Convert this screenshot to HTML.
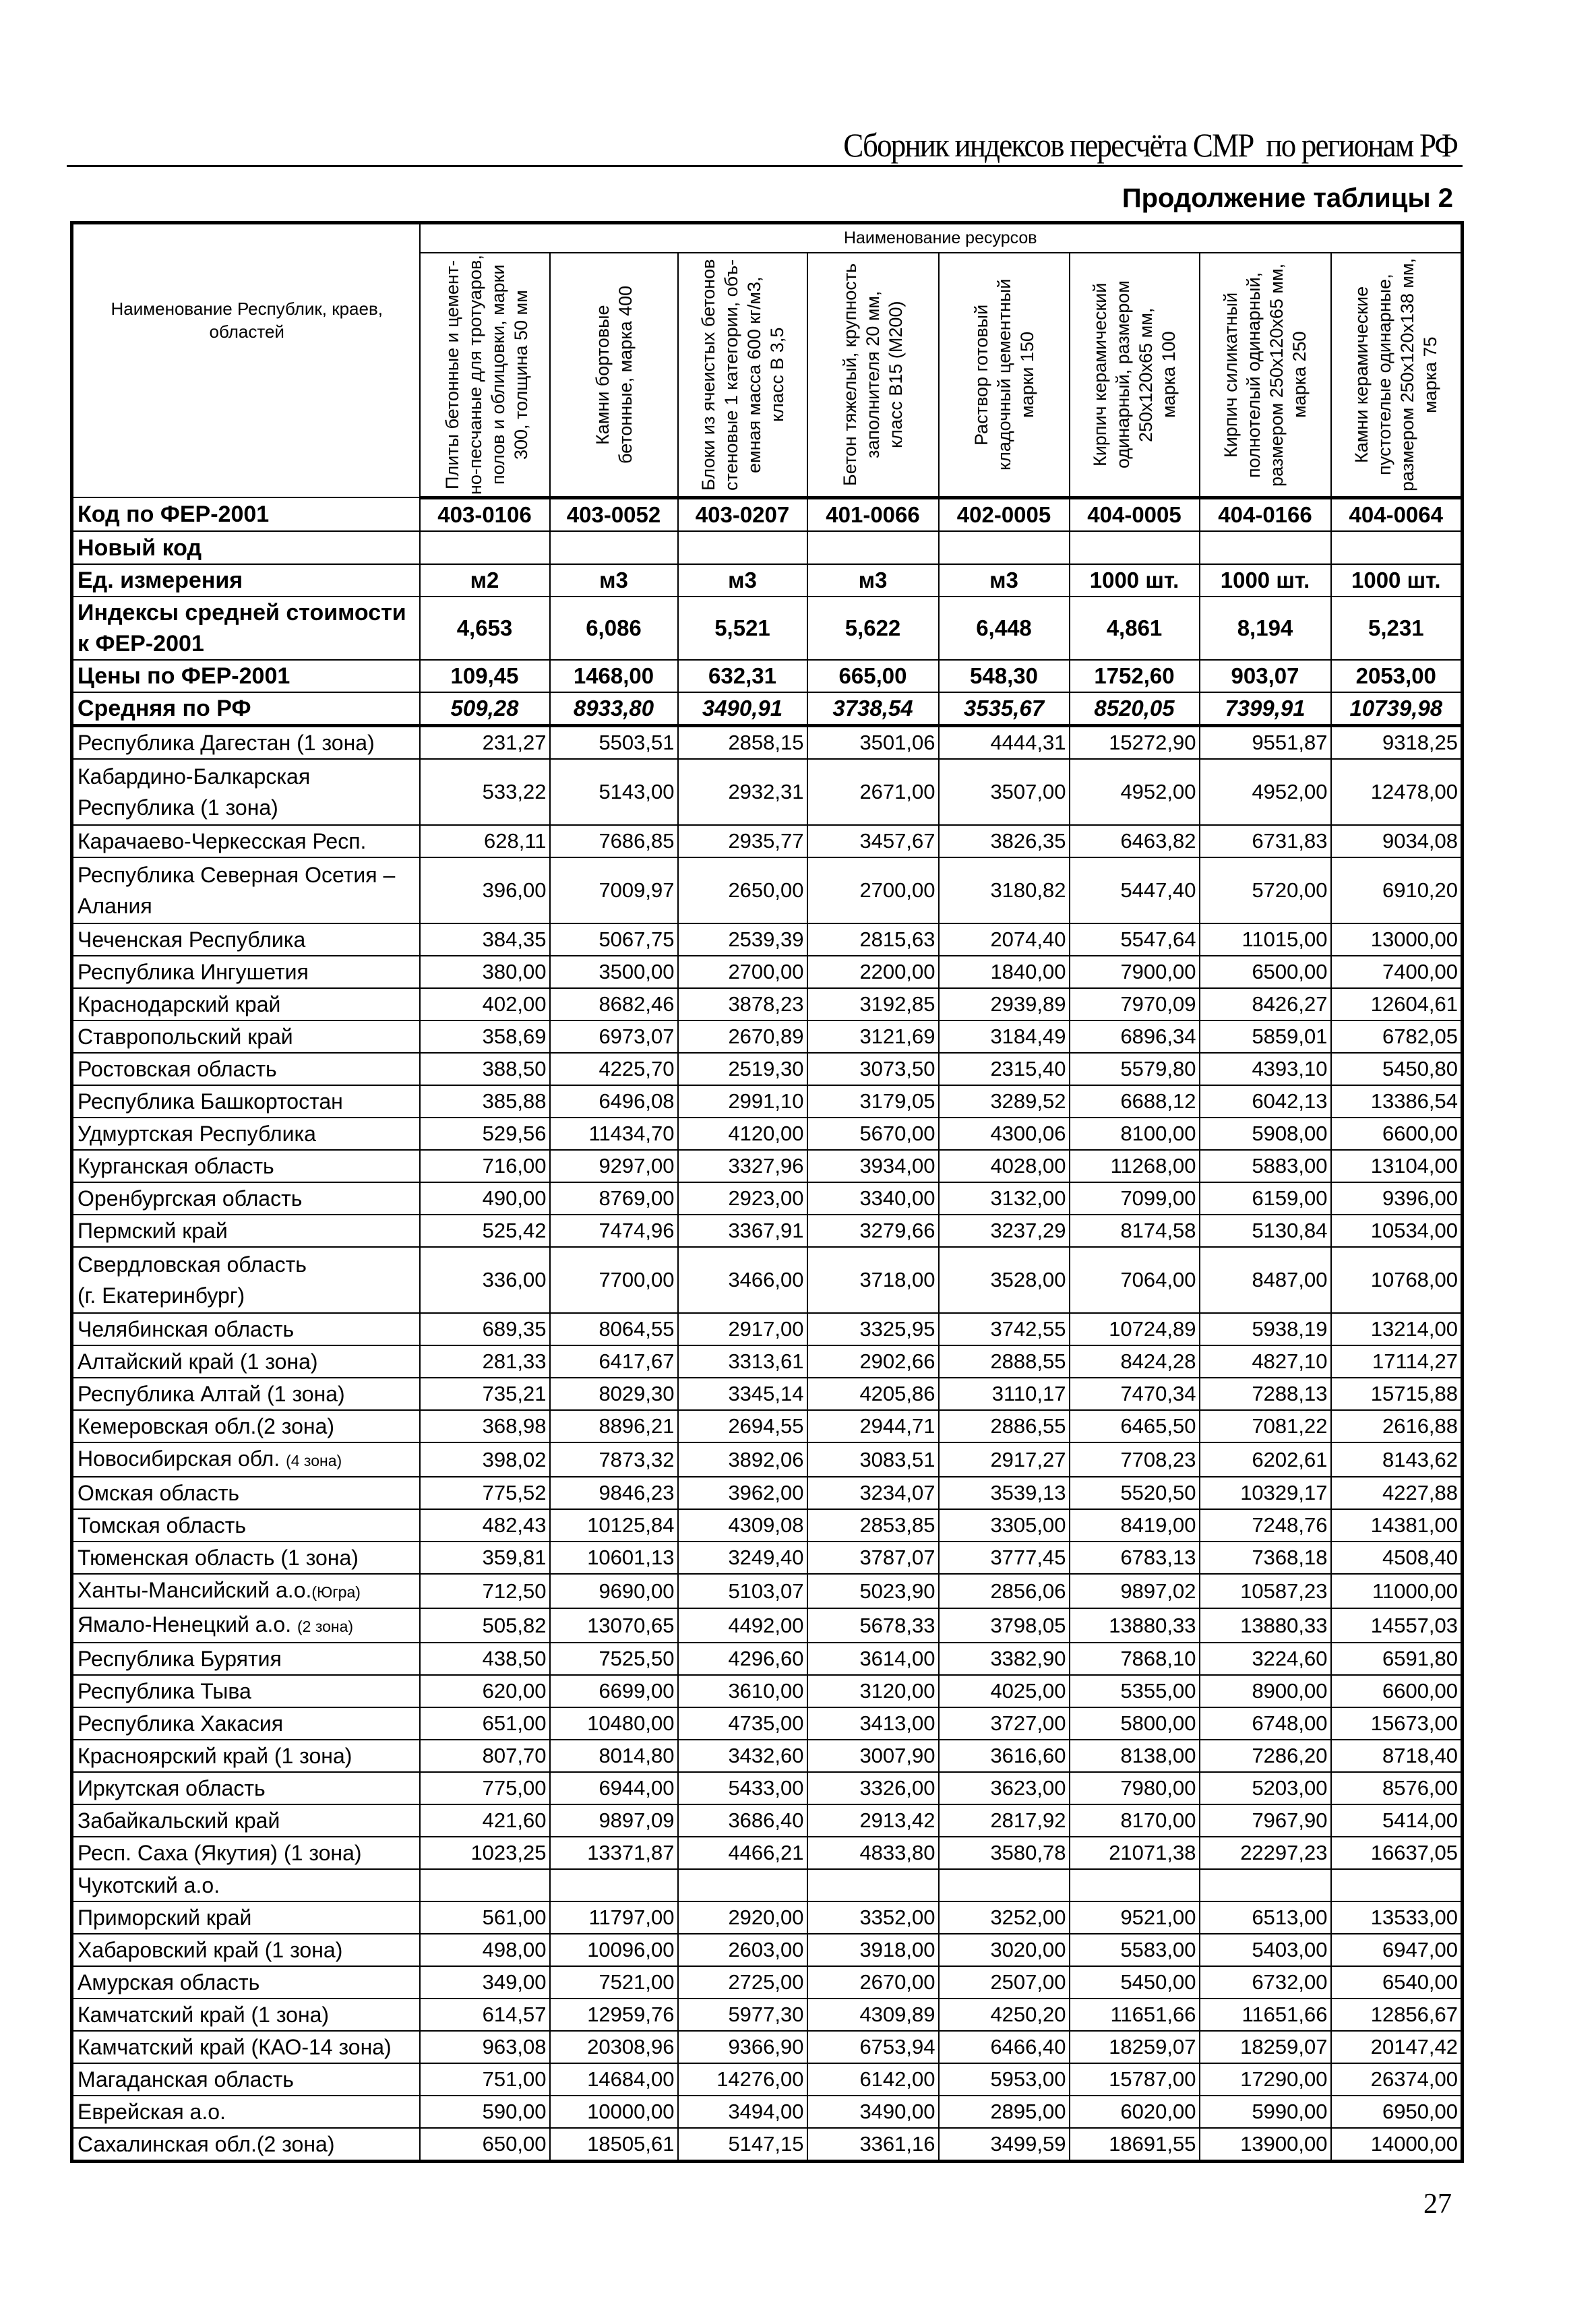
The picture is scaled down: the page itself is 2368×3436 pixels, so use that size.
<!DOCTYPE html>
<html><head><meta charset="utf-8">
<style>
html,body{margin:0;padding:0;background:#fff;}
body{width:2368px;height:3436px;position:relative;overflow:hidden;font-family:"Liberation Sans",Arial,sans-serif;color:#000;}
.title{position:absolute;right:206px;top:186px;font-family:"Liberation Serif",serif;font-size:50px;letter-spacing:-2px;white-space:nowrap;transform:scaleX(0.9);transform-origin:right;}
.rule{position:absolute;left:99px;top:245px;width:2071px;height:3px;background:#000;}
.sub{position:absolute;right:212px;top:272px;font-size:40px;font-weight:bold;white-space:nowrap;}
.pnum{position:absolute;right:214px;top:3246px;font-family:"Liberation Serif",serif;font-size:42px;}
table{position:absolute;left:104px;top:328px;border-collapse:collapse;table-layout:fixed;width:2063px;border:5px solid #000;}
td{border:2px solid #000;padding:0 4px;font-size:31px;white-space:nowrap;overflow:hidden;text-align:right;line-height:40px;}
td:first-child{text-align:left;padding-left:6px;white-space:normal;line-height:46px;font-size:32px;}
tr.d td{height:46px;}
tr.d2 td{height:96px;}
.hd td{font-weight:bold;text-align:center;font-size:33px;}
.hd td:first-child{text-align:left;font-size:34px;}
.it td{font-style:italic;}
.thick td{border-bottom:5px solid #000;}
.vh{height:360px;padding:0;text-align:center;vertical-align:middle;}
.vh div{writing-mode:vertical-rl;transform:rotate(180deg);font-size:27px;line-height:34px;text-align:center;height:360px;margin:auto;white-space:nowrap;}
.sm{font-size:23px;}
</style></head><body>
<div class="title">Сборник индексов пересчёта СМР&nbsp; по регионам РФ</div>
<div class="rule"></div>
<div class="sub">Продолжение таблицы 2</div>
<table>
<colgroup><col style="width:516px"><col style="width:193px"><col style="width:190px"><col style="width:192px"><col style="width:195px"><col style="width:194px"><col style="width:193px"><col style="width:195px"><col style="width:195px"></colgroup>
<tr style="height:44px"><td rowspan="2" style="text-align:center;font-size:26px;line-height:34px;white-space:normal;padding-bottom:120px">Наименование Республик, краев,<br>областей</td><td colspan="8" style="text-align:center;font-size:25px">Наименование ресурсов</td></tr>
<tr class="thick"><td class="vh"><div>Плиты бетонные и цемент-<br>но-песчаные для тротуаров,<br>полов и облицовки, марки<br>300, толщина 50 мм</div></td>
<td class="vh"><div>Камни бортовые<br>бетонные, марка 400</div></td>
<td class="vh"><div>Блоки из ячеистых бетонов<br>стеновые 1 категории, объ-<br>емная масса 600 кг/м3,<br>класс В 3,5</div></td>
<td class="vh"><div>Бетон тяжелый, крупность<br>заполнителя 20 мм,<br>класс B15 (М200)</div></td>
<td class="vh"><div>Раствор готовый<br>кладочный цементный<br>марки 150</div></td>
<td class="vh"><div>Кирпич керамический<br>одинарный, размером<br>250х120х65 мм,<br>марка 100</div></td>
<td class="vh"><div>Кирпич силикатный<br>полнотелый одинарный,<br>размером 250х120х65 мм,<br>марка 250</div></td>
<td class="vh"><div>Камни керамические<br>пустотелые одинарные,<br>размером 250х120х138 мм,<br>марка 75</div></td></tr>
<tr class="hd" style="height:50px"><td>Код по ФЕР-2001</td><td>403-0106</td><td>403-0052</td><td>403-0207</td><td>401-0066</td><td>402-0005</td><td>404-0005</td><td>404-0166</td><td>404-0064</td></tr>
<tr class="hd" style="height:49px"><td>Новый код</td><td></td><td></td><td></td><td></td><td></td><td></td><td></td><td></td></tr>
<tr class="hd" style="height:48px"><td>Ед. измерения</td><td>м2</td><td>м3</td><td>м3</td><td>м3</td><td>м3</td><td>1000 шт.</td><td>1000 шт.</td><td>1000 шт.</td></tr>
<tr class="hd" style="height:94px"><td>Индексы средней стоимости<br>к ФЕР-2001</td><td>4,653</td><td>6,086</td><td>5,521</td><td>5,622</td><td>6,448</td><td>4,861</td><td>8,194</td><td>5,231</td></tr>
<tr class="hd" style="height:48px"><td>Цены по ФЕР-2001</td><td>109,45</td><td>1468,00</td><td>632,31</td><td>665,00</td><td>548,30</td><td>1752,60</td><td>903,07</td><td>2053,00</td></tr>
<tr class="hd it thick" style="height:49px"><td style="font-style:normal">Средняя по РФ</td><td>509,28</td><td>8933,80</td><td>3490,91</td><td>3738,54</td><td>3535,67</td><td>8520,05</td><td>7399,91</td><td>10739,98</td></tr>
<tr class="d"><td>Республика Дагестан (1 зона)</td><td>231,27</td><td>5503,51</td><td>2858,15</td><td>3501,06</td><td>4444,31</td><td>15272,90</td><td>9551,87</td><td>9318,25</td></tr>
<tr class="d2"><td>Кабардино-Балкарская<br>Республика (1 зона)</td><td>533,22</td><td>5143,00</td><td>2932,31</td><td>2671,00</td><td>3507,00</td><td>4952,00</td><td>4952,00</td><td>12478,00</td></tr>
<tr class="d"><td>Карачаево-Черкесская Респ.</td><td>628,11</td><td>7686,85</td><td>2935,77</td><td>3457,67</td><td>3826,35</td><td>6463,82</td><td>6731,83</td><td>9034,08</td></tr>
<tr class="d2"><td>Республика Северная Осетия –<br>Алания</td><td>396,00</td><td>7009,97</td><td>2650,00</td><td>2700,00</td><td>3180,82</td><td>5447,40</td><td>5720,00</td><td>6910,20</td></tr>
<tr class="d"><td>Чеченская Республика</td><td>384,35</td><td>5067,75</td><td>2539,39</td><td>2815,63</td><td>2074,40</td><td>5547,64</td><td>11015,00</td><td>13000,00</td></tr>
<tr class="d"><td>Республика Ингушетия</td><td>380,00</td><td>3500,00</td><td>2700,00</td><td>2200,00</td><td>1840,00</td><td>7900,00</td><td>6500,00</td><td>7400,00</td></tr>
<tr class="d"><td>Краснодарский край</td><td>402,00</td><td>8682,46</td><td>3878,23</td><td>3192,85</td><td>2939,89</td><td>7970,09</td><td>8426,27</td><td>12604,61</td></tr>
<tr class="d"><td>Ставропольский край</td><td>358,69</td><td>6973,07</td><td>2670,89</td><td>3121,69</td><td>3184,49</td><td>6896,34</td><td>5859,01</td><td>6782,05</td></tr>
<tr class="d"><td>Ростовская область</td><td>388,50</td><td>4225,70</td><td>2519,30</td><td>3073,50</td><td>2315,40</td><td>5579,80</td><td>4393,10</td><td>5450,80</td></tr>
<tr class="d"><td>Республика Башкортостан</td><td>385,88</td><td>6496,08</td><td>2991,10</td><td>3179,05</td><td>3289,52</td><td>6688,12</td><td>6042,13</td><td>13386,54</td></tr>
<tr class="d"><td>Удмуртская Республика</td><td>529,56</td><td>11434,70</td><td>4120,00</td><td>5670,00</td><td>4300,06</td><td>8100,00</td><td>5908,00</td><td>6600,00</td></tr>
<tr class="d"><td>Курганская область</td><td>716,00</td><td>9297,00</td><td>3327,96</td><td>3934,00</td><td>4028,00</td><td>11268,00</td><td>5883,00</td><td>13104,00</td></tr>
<tr class="d"><td>Оренбургская область</td><td>490,00</td><td>8769,00</td><td>2923,00</td><td>3340,00</td><td>3132,00</td><td>7099,00</td><td>6159,00</td><td>9396,00</td></tr>
<tr class="d"><td>Пермский край</td><td>525,42</td><td>7474,96</td><td>3367,91</td><td>3279,66</td><td>3237,29</td><td>8174,58</td><td>5130,84</td><td>10534,00</td></tr>
<tr class="d2"><td>Свердловская область<br>(г. Екатеринбург)</td><td>336,00</td><td>7700,00</td><td>3466,00</td><td>3718,00</td><td>3528,00</td><td>7064,00</td><td>8487,00</td><td>10768,00</td></tr>
<tr class="d"><td>Челябинская область</td><td>689,35</td><td>8064,55</td><td>2917,00</td><td>3325,95</td><td>3742,55</td><td>10724,89</td><td>5938,19</td><td>13214,00</td></tr>
<tr class="d"><td>Алтайский край (1 зона)</td><td>281,33</td><td>6417,67</td><td>3313,61</td><td>2902,66</td><td>2888,55</td><td>8424,28</td><td>4827,10</td><td>17114,27</td></tr>
<tr class="d"><td>Республика Алтай (1 зона)</td><td>735,21</td><td>8029,30</td><td>3345,14</td><td>4205,86</td><td>3110,17</td><td>7470,34</td><td>7288,13</td><td>15715,88</td></tr>
<tr class="d"><td>Кемеровская обл.(2 зона)</td><td>368,98</td><td>8896,21</td><td>2694,55</td><td>2944,71</td><td>2886,55</td><td>6465,50</td><td>7081,22</td><td>2616,88</td></tr>
<tr class="d"><td>Новосибирская обл. <span class="sm">(4 зона)</span></td><td>398,02</td><td>7873,32</td><td>3892,06</td><td>3083,51</td><td>2917,27</td><td>7708,23</td><td>6202,61</td><td>8143,62</td></tr>
<tr class="d"><td>Омская область</td><td>775,52</td><td>9846,23</td><td>3962,00</td><td>3234,07</td><td>3539,13</td><td>5520,50</td><td>10329,17</td><td>4227,88</td></tr>
<tr class="d"><td>Томская область</td><td>482,43</td><td>10125,84</td><td>4309,08</td><td>2853,85</td><td>3305,00</td><td>8419,00</td><td>7248,76</td><td>14381,00</td></tr>
<tr class="d"><td>Тюменская область (1 зона)</td><td>359,81</td><td>10601,13</td><td>3249,40</td><td>3787,07</td><td>3777,45</td><td>6783,13</td><td>7368,18</td><td>4508,40</td></tr>
<tr class="d"><td>Ханты-Мансийский а.о.<span class="sm">(Югра)</span></td><td>712,50</td><td>9690,00</td><td>5103,07</td><td>5023,90</td><td>2856,06</td><td>9897,02</td><td>10587,23</td><td>11000,00</td></tr>
<tr class="d"><td>Ямало-Ненецкий а.о. <span class="sm">(2 зона)</span></td><td>505,82</td><td>13070,65</td><td>4492,00</td><td>5678,33</td><td>3798,05</td><td>13880,33</td><td>13880,33</td><td>14557,03</td></tr>
<tr class="d"><td>Республика Бурятия</td><td>438,50</td><td>7525,50</td><td>4296,60</td><td>3614,00</td><td>3382,90</td><td>7868,10</td><td>3224,60</td><td>6591,80</td></tr>
<tr class="d"><td>Республика Тыва</td><td>620,00</td><td>6699,00</td><td>3610,00</td><td>3120,00</td><td>4025,00</td><td>5355,00</td><td>8900,00</td><td>6600,00</td></tr>
<tr class="d"><td>Республика Хакасия</td><td>651,00</td><td>10480,00</td><td>4735,00</td><td>3413,00</td><td>3727,00</td><td>5800,00</td><td>6748,00</td><td>15673,00</td></tr>
<tr class="d"><td>Красноярский край (1 зона)</td><td>807,70</td><td>8014,80</td><td>3432,60</td><td>3007,90</td><td>3616,60</td><td>8138,00</td><td>7286,20</td><td>8718,40</td></tr>
<tr class="d"><td>Иркутская область</td><td>775,00</td><td>6944,00</td><td>5433,00</td><td>3326,00</td><td>3623,00</td><td>7980,00</td><td>5203,00</td><td>8576,00</td></tr>
<tr class="d"><td>Забайкальский край</td><td>421,60</td><td>9897,09</td><td>3686,40</td><td>2913,42</td><td>2817,92</td><td>8170,00</td><td>7967,90</td><td>5414,00</td></tr>
<tr class="d"><td>Респ. Саха (Якутия) (1 зона)</td><td>1023,25</td><td>13371,87</td><td>4466,21</td><td>4833,80</td><td>3580,78</td><td>21071,38</td><td>22297,23</td><td>16637,05</td></tr>
<tr class="d"><td>Чукотский а.о.</td><td></td><td></td><td></td><td></td><td></td><td></td><td></td><td></td></tr>
<tr class="d"><td>Приморский край</td><td>561,00</td><td>11797,00</td><td>2920,00</td><td>3352,00</td><td>3252,00</td><td>9521,00</td><td>6513,00</td><td>13533,00</td></tr>
<tr class="d"><td>Хабаровский край (1 зона)</td><td>498,00</td><td>10096,00</td><td>2603,00</td><td>3918,00</td><td>3020,00</td><td>5583,00</td><td>5403,00</td><td>6947,00</td></tr>
<tr class="d"><td>Амурская область</td><td>349,00</td><td>7521,00</td><td>2725,00</td><td>2670,00</td><td>2507,00</td><td>5450,00</td><td>6732,00</td><td>6540,00</td></tr>
<tr class="d"><td>Камчатский край (1 зона)</td><td>614,57</td><td>12959,76</td><td>5977,30</td><td>4309,89</td><td>4250,20</td><td>11651,66</td><td>11651,66</td><td>12856,67</td></tr>
<tr class="d"><td>Камчатский край (КАО-14 зона)</td><td>963,08</td><td>20308,96</td><td>9366,90</td><td>6753,94</td><td>6466,40</td><td>18259,07</td><td>18259,07</td><td>20147,42</td></tr>
<tr class="d"><td>Магаданская область</td><td>751,00</td><td>14684,00</td><td>14276,00</td><td>6142,00</td><td>5953,00</td><td>15787,00</td><td>17290,00</td><td>26374,00</td></tr>
<tr class="d"><td>Еврейская а.о.</td><td>590,00</td><td>10000,00</td><td>3494,00</td><td>3490,00</td><td>2895,00</td><td>6020,00</td><td>5990,00</td><td>6950,00</td></tr>
<tr class="d"><td>Сахалинская обл.(2 зона)</td><td>650,00</td><td>18505,61</td><td>5147,15</td><td>3361,16</td><td>3499,59</td><td>18691,55</td><td>13900,00</td><td>14000,00</td></tr>
</table>
<div class="pnum">27</div>
</body></html>
